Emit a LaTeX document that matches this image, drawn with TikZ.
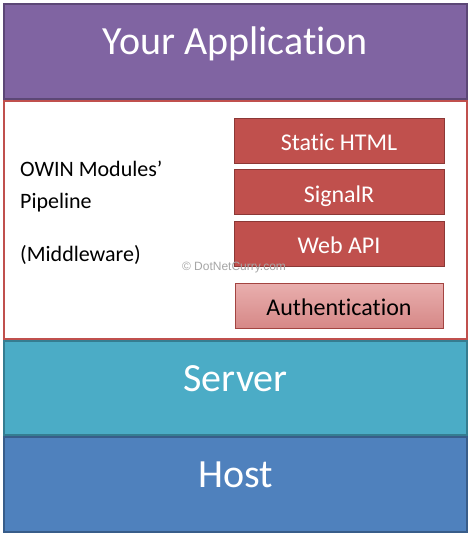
\documentclass[tikz,border=0pt]{standalone}
\usepackage{fontspec}
\setmainfont[Ligatures={NoCommon,NoRare}]{Carlito}
\newfontfamily\markfont{Liberation Sans}
\usetikzlibrary{positioning}
\definecolor{appPurple}{HTML}{8064A2}
\definecolor{appPurpleD}{HTML}{5C4776}
\definecolor{mwRed}{HTML}{C0504D}
\definecolor{mwRedD}{HTML}{8C3836}
\definecolor{authTop}{HTML}{E9AFAE}
\definecolor{authBot}{HTML}{D68887}
\definecolor{srvCyan}{HTML}{4BACC6}
\definecolor{srvCyanD}{HTML}{357D91}
\definecolor{hostBlue}{HTML}{4F81BD}
\definecolor{hostBlueD}{HTML}{385D8A}
\tikzset{
  layer/.style={draw, line width=1.5pt, minimum width=463pt, inner sep=0pt,
    text=white, font=\fontsize{40}{40}\selectfont, text height=27pt, text depth=21pt},
  module/.style={draw=mwRedD, fill=mwRed, line width=1pt, minimum width=210pt, minimum height=45pt,
    inner sep=0pt, text=white, font=\fontsize{24}{24}\selectfont, text height=20pt, text depth=0pt},
  mwtext/.style={anchor=base west, inner sep=0pt, font=\fontsize{22}{22}\selectfont}
}
\begin{document}
\begin{tikzpicture}[x=1pt, y=-1pt]
  \useasboundingbox (0,0) rectangle (472,536);
  % layers of the stack
  \node[layer, draw=appPurpleD, fill=appPurple, minimum height=95pt] (app) at (235.5,51.5) {Your Application};
  \node[draw=mwRed, line width=1.5pt, fill=white, minimum width=463pt, minimum height=238pt] (mw) at (235.5,220) {};
  \node[layer, draw=srvCyanD, fill=srvCyan, minimum height=94pt] (server) at (235.5,388) {Server};
  \node[layer, draw=hostBlueD, fill=hostBlue, minimum height=95pt] (host) at (235.5,484.5) {Host};
  % middleware text
  \foreach \t/\y [count=\i] in {OWIN Modules’/176, Pipeline/208, (Middleware)/261}
    \node[mwtext] (mwtxt\i) at (20,\y) {\t};
  % modules
  \foreach \t/\y [count=\i] in {Static HTML/140.5, SignalR/192, Web API/243.5}
    \node[module] (mod\i) at (339,\y) {\t};
  \node[module, draw=mwRed!85!black, top color=authTop, bottom color=authBot, text=black, minimum width=208pt] (auth) at (339,305.5) {Authentication};
  \node[font=\markfont\fontsize{12}{12}\selectfont, text=black!35, inner sep=0pt] (mark) at (234,268) {© DotNetCurry.com};
\end{tikzpicture}
\end{document}
